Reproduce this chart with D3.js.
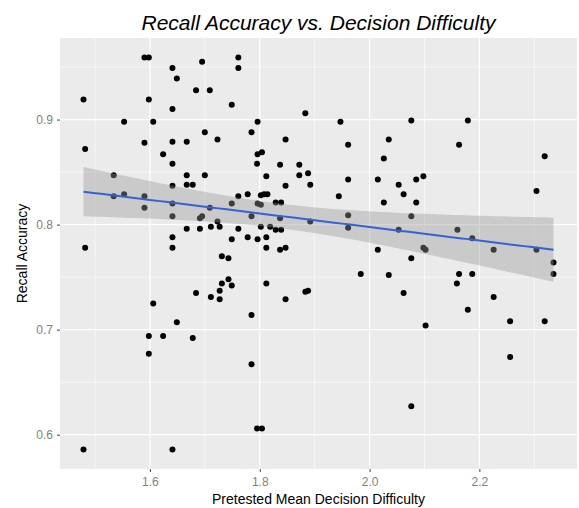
<!DOCTYPE html>
<html>
<head>
<meta charset="utf-8">
<script src="https://cdn.jsdelivr.net/npm/d3@7"></script>
<style>
  body { margin: 0; background: #fff; }
  text { font-family: "Liberation Sans", Arial, sans-serif; }
</style>
</head>
<body>
<div id="chart"></div>
<script>
// Scatter of recall accuracy vs decision difficulty with lm smooth (ggplot look)

const difficulty = [
  1.479, 1.482, 1.482, 1.479, 1.534, 1.534, 1.553, 1.553, 1.590, 1.598,
  1.598, 1.590, 1.590, 1.590, 1.606, 1.624, 1.606, 1.598, 1.624, 1.598,
  1.641, 1.649, 1.641, 1.641, 1.641, 1.641, 1.641, 1.641, 1.641, 1.641,
  1.649, 1.641, 1.667, 1.667, 1.667, 1.678, 1.667, 1.684, 1.695, 1.709,
  1.700, 1.700, 1.723, 1.695, 1.691, 1.709, 1.723, 1.727, 1.711, 1.691,
  1.684, 1.678, 1.711, 1.727, 1.727, 1.731, 1.743, 1.749, 1.731, 1.743,
  1.749, 1.761, 1.761, 1.749, 1.761, 1.778, 1.761, 1.749, 1.778, 1.785,
  1.796, 1.796, 1.804, 1.795, 1.812, 1.802, 1.808, 1.814, 1.796, 1.802,
  1.829, 1.839, 1.785, 1.837, 1.802, 1.819, 1.829, 1.839, 1.796, 1.812,
  1.812, 1.837, 1.847, 1.837, 1.847, 1.847, 1.812, 1.847, 1.785, 1.785,
  1.795, 1.804, 1.883, 1.872, 1.872, 1.888, 1.892, 1.892, 1.944, 1.947,
  1.961, 1.961, 1.961, 1.961, 2.015, 2.015, 2.026, 2.026, 2.035, 2.053,
  2.062, 2.053, 2.076, 2.085, 2.098, 2.085, 2.076, 2.098, 2.102, 2.163,
  2.179, 2.160, 2.187, 2.226, 2.304, 2.319, 2.304, 2.076, 1.984, 2.035,
  2.163, 2.187, 2.159, 2.335, 2.335, 1.883, 1.888, 2.062, 2.226, 2.179,
  2.102, 2.256, 2.319, 2.256, 2.076
];

const accuracy = [
  0.919, 0.872, 0.778, 0.586, 0.847, 0.827, 0.898, 0.829, 0.959, 0.959,
  0.919, 0.878, 0.827, 0.816, 0.898, 0.867, 0.725, 0.694, 0.694, 0.677,
  0.949, 0.939, 0.910, 0.879, 0.858, 0.837, 0.820, 0.808, 0.788, 0.778,
  0.707, 0.586, 0.879, 0.847, 0.838, 0.838, 0.796, 0.928, 0.955, 0.928,
  0.888, 0.847, 0.881, 0.808, 0.806, 0.816, 0.803, 0.798, 0.798, 0.796,
  0.735, 0.692, 0.731, 0.729, 0.737, 0.744, 0.748, 0.742, 0.770, 0.768,
  0.914, 0.959, 0.949, 0.820, 0.827, 0.829, 0.796, 0.786, 0.788, 0.888,
  0.898, 0.867, 0.869, 0.858, 0.846, 0.828, 0.829, 0.829, 0.820, 0.819,
  0.821, 0.821, 0.808, 0.806, 0.798, 0.798, 0.795, 0.795, 0.786, 0.788,
  0.778, 0.776, 0.778, 0.857, 0.881, 0.837, 0.744, 0.729, 0.714, 0.667,
  0.606, 0.606, 0.906, 0.857, 0.847, 0.849, 0.838, 0.803, 0.827, 0.898,
  0.876, 0.843, 0.809, 0.797, 0.843, 0.776, 0.863, 0.821, 0.881, 0.838,
  0.829, 0.795, 0.899, 0.843, 0.846, 0.821, 0.808, 0.778, 0.776, 0.876,
  0.899, 0.795, 0.787, 0.776, 0.832, 0.865, 0.776, 0.768, 0.753, 0.752,
  0.753, 0.753, 0.744, 0.764, 0.753, 0.736, 0.737, 0.735, 0.731, 0.719,
  0.704, 0.708, 0.708, 0.674, 0.627
];

const xTicks = [1.6, 1.8, 2.0, 2.2];
const yTicks = [0.6, 0.7, 0.8, 0.9];
const xMinor = [1.5, 1.7, 1.9, 2.1, 2.3];
const yMinor = [0.65, 0.75, 0.85, 0.95];

const points = difficulty.map((d, i) => ({ x: d, y: accuracy[i] }));

const width = 579, height = 508;
const panel = { left: 60, top: 38, right: 577, bottom: 469 };

// ggplot default: 5% expansion of the data range
const expand = ext => {
  const pad = (ext[1] - ext[0]) * 0.05;
  return [ext[0] - pad, ext[1] + pad];
};

const x = d3.scaleLinear()
  .domain(expand(d3.extent(difficulty)))
  .range([panel.left, panel.right]);

const y = d3.scaleLinear()
  .domain(expand(d3.extent(accuracy)))
  .range([panel.bottom, panel.top]);

// least squares fit with 95% confidence band
const n = points.length;
const mx = d3.mean(difficulty), my = d3.mean(accuracy);
const sxx = d3.sum(difficulty, d => (d - mx) ** 2);
const sxy = d3.sum(points, p => (p.x - mx) * (p.y - my));
const slope = sxy / sxx;
const intercept = my - slope * mx;
const sse = d3.sum(points, p => (p.y - (intercept + slope * p.x)) ** 2);
const s = Math.sqrt(sse / (n - 2));
const tcrit = 1.976;

const [x0, x1] = d3.extent(difficulty);
const fit = d3.range(81).map(i => {
  const xv = x0 + (x1 - x0) * i / 80;
  const yv = intercept + slope * xv;
  const se = s * Math.sqrt(1 / n + (xv - mx) ** 2 / sxx);
  return { x: xv, y: yv, lo: yv - tcrit * se, hi: yv + tcrit * se };
});

const svg = d3.select("#chart")
  .append("svg")
  .attr("width", width)
  .attr("height", height);

// panel background
svg.append("rect")
  .attr("x", panel.left)
  .attr("y", panel.top)
  .attr("width", panel.right - panel.left)
  .attr("height", panel.bottom - panel.top)
  .attr("fill", "#ebebeb");

// grid lines
const grid = svg.append("g");
grid.selectAll(".vminor").data(xMinor).join("line")
  .attr("x1", d => x(d)).attr("x2", d => x(d))
  .attr("y1", panel.top).attr("y2", panel.bottom)
  .attr("stroke", "#fff").attr("stroke-width", 0.6);
grid.selectAll(".hminor").data(yMinor).join("line")
  .attr("y1", d => y(d)).attr("y2", d => y(d))
  .attr("x1", panel.left).attr("x2", panel.right)
  .attr("stroke", "#fff").attr("stroke-width", 0.6);
grid.selectAll(".vmajor").data(xTicks).join("line")
  .attr("x1", d => x(d)).attr("x2", d => x(d))
  .attr("y1", panel.top).attr("y2", panel.bottom)
  .attr("stroke", "#fff").attr("stroke-width", 1.2);
grid.selectAll(".hmajor").data(yTicks).join("line")
  .attr("y1", d => y(d)).attr("y2", d => y(d))
  .attr("x1", panel.left).attr("x2", panel.right)
  .attr("stroke", "#fff").attr("stroke-width", 1.2);

// points
svg.append("g")
  .selectAll("circle")
  .data(points)
  .join("circle")
  .attr("cx", d => x(d.x))
  .attr("cy", d => y(d.y))
  .attr("r", 3)
  .attr("fill", "#000");

// confidence band (drawn over the points like geom_smooth)
svg.append("path")
  .datum(fit)
  .attr("fill", "#999999")
  .attr("fill-opacity", 0.4)
  .attr("d", d3.area().x(d => x(d.x)).y0(d => y(d.lo)).y1(d => y(d.hi)));

svg.append("path")
  .datum(fit)
  .attr("fill", "none")
  .attr("stroke", "#3562d4")
  .attr("stroke-width", 2)
  .attr("d", d3.line().x(d => x(d.x)).y(d => y(d.y)));

// axes
const xAxis = svg.append("g")
  .attr("transform", `translate(0,${panel.bottom})`)
  .call(d3.axisBottom(x).tickValues(xTicks).tickFormat(d3.format(".1f")).tickSize(3).tickPadding(5));
const yAxis = svg.append("g")
  .attr("transform", `translate(${panel.left},0)`)
  .call(d3.axisLeft(y).tickValues(yTicks).tickFormat(d3.format(".1f")).tickSize(3).tickPadding(4));

[xAxis, yAxis].forEach(g => {
  g.select(".domain").remove();
  g.selectAll(".tick line").attr("stroke", "#444").attr("stroke-width", 1);
  g.selectAll(".tick text")
    .attr("fill", "#7f7f7f")
    .style("font-size", "12px")
    .style("font-family", "'Liberation Sans', Arial, sans-serif");
});

// titles
svg.append("text")
  .attr("x", (panel.left + panel.right) / 2)
  .attr("y", 30)
  .attr("text-anchor", "middle")
  .style("font-size", "21px")
  .style("font-style", "italic")
  .attr("fill", "#000")
  .text("Recall Accuracy vs. Decision Difficulty");

svg.append("text")
  .attr("x", (panel.left + panel.right) / 2)
  .attr("y", 504)
  .attr("text-anchor", "middle")
  .style("font-size", "14px")
  .attr("fill", "#000")
  .text("Pretested Mean Decision Difficulty");

svg.append("text")
  .attr("transform", `translate(27,${(panel.top + panel.bottom) / 2}) rotate(-90)`)
  .attr("text-anchor", "middle")
  .style("font-size", "14px")
  .attr("fill", "#000")
  .text("Recall Accuracy");
</script>
</body>
</html>
